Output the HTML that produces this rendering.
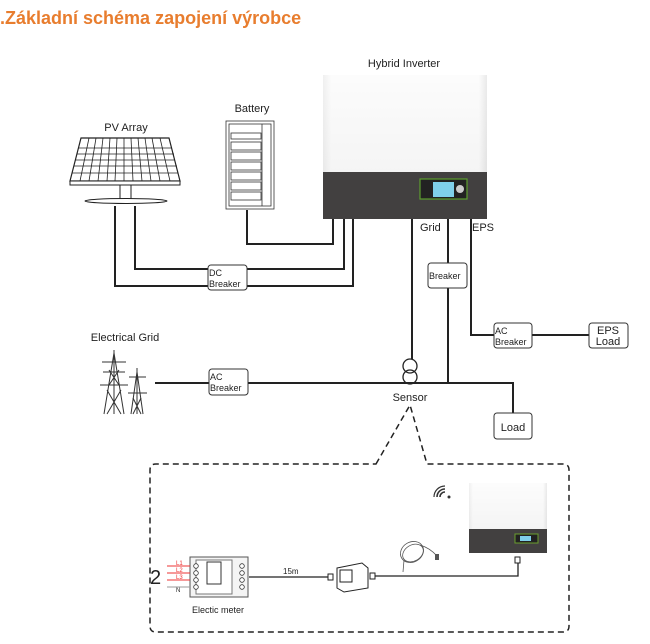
<!DOCTYPE html>
<html><head><meta charset="utf-8"><style>
body{margin:0;background:#fff;width:650px;height:644px;overflow:hidden}
svg{display:block}
text{font-family:"Liberation Sans",sans-serif;fill:#222}
</style></head><body>
<svg width="650" height="644" viewBox="0 0 650 644" xmlns="http://www.w3.org/2000/svg">
<defs>
<linearGradient id="g1" x1="0" x2="1" y1="0" y2="0"><stop offset="0" stop-color="#e6e6e6"/><stop offset="0.05" stop-color="#fafafa"/><stop offset="0.95" stop-color="#fafafa"/><stop offset="1" stop-color="#dcdcdc"/></linearGradient>
<linearGradient id="g2" x1="0" x2="0" y1="0" y2="1"><stop offset="0" stop-color="#ffffff"/><stop offset="1" stop-color="#ececec"/></linearGradient>
</defs>
<text x="0" y="24" font-size="18" font-weight="bold" style="fill:#e87d2e">.Základní schéma zapojení výrobce</text>

<!-- Inverter -->
<text x="404" y="67" font-size="11" text-anchor="middle">Hybrid Inverter</text>
<rect x="323" y="75" width="164" height="97" fill="url(#g2)"/>
<rect x="323" y="75" width="164" height="97" fill="url(#g1)" opacity="0.6"/>
<rect x="323" y="172" width="164" height="47" fill="#424040"/>
<rect x="420" y="179" width="47" height="20" fill="#222" stroke="#5c9e2e" stroke-width="1.2"/>
<rect x="433" y="182" width="21" height="15" fill="#7fd0ea"/>
<circle cx="460" cy="189" r="4" fill="#ccc"/>

<!-- Battery -->
<text x="252" y="112" font-size="11" text-anchor="middle">Battery</text>
<g stroke="#333" fill="none" stroke-width="0.8">
<rect x="226" y="121" width="48" height="88" fill="#fff"/>
<rect x="229" y="124" width="42" height="82"/>
<line x1="262" y1="124" x2="262" y2="206"/>
<rect x="231" y="133" width="30" height="6"/><rect x="231" y="142" width="30" height="8"/><rect x="231" y="152" width="30" height="8"/><rect x="231" y="162" width="30" height="8"/><rect x="231" y="172" width="30" height="8"/><rect x="231" y="182" width="30" height="8"/><rect x="231" y="192" width="30" height="8"/>
</g>

<!-- PV -->
<text x="126" y="131" font-size="11" text-anchor="middle">PV Array</text>
<polygon points="81,138 169,138 180,181 70,181" fill="#fff" stroke="#222" stroke-width="1.2"/>
<g stroke="#222" stroke-width="0.8">
<line x1="78" y1="148" x2="172" y2="148"/><line x1="77" y1="154" x2="174" y2="154"/><line x1="75" y1="160" x2="175" y2="160"/><line x1="74" y1="166" x2="177" y2="166"/><line x1="72" y1="173" x2="178" y2="173"/>
<line x1="89" y1="138" x2="80" y2="181"/><line x1="96" y1="138" x2="89" y2="181"/><line x1="103" y1="138" x2="98" y2="181"/><line x1="110" y1="138" x2="107" y2="181"/><line x1="117" y1="138" x2="115" y2="181"/><line x1="124" y1="138" x2="124" y2="181"/><line x1="131" y1="138" x2="133" y2="181"/><line x1="138" y1="138" x2="142" y2="181"/><line x1="145" y1="138" x2="151" y2="181"/><line x1="152" y1="138" x2="160" y2="181"/><line x1="160" y1="138" x2="170" y2="181"/>
</g>
<rect x="70" y="181" width="110" height="4" fill="#fff" stroke="#222"/>
<rect x="120" y="185" width="11" height="15" fill="#fff" stroke="#222"/>
<ellipse cx="126" cy="201" rx="41" ry="2.5" fill="#fff" stroke="#222"/>

<!-- wires -->
<g stroke="#222" stroke-width="2" fill="none">
<polyline points="115,206 115,286 353,286 353,219"/>
<polyline points="135,206 135,269 344,269 344,219"/>
<polyline points="247,210 247,244 333,244 333,219"/>
<line x1="412" y1="219" x2="412" y2="360"/>
<polyline points="448,219 448,383"/>
<polyline points="471,219 471,335 589,335"/>
<polyline points="155,383 513,383 513,413"/>
</g>
<text x="420" y="231" font-size="11">Grid</text>
<text x="472" y="231" font-size="11">EPS</text>

<g fill="#fff" stroke="#333" stroke-width="1">
<rect x="208" y="265" width="39" height="25" rx="3"/>
<rect x="428" y="263" width="39" height="25" rx="3"/>
<rect x="494" y="323" width="38" height="25" rx="3"/>
<rect x="589" y="323" width="39" height="25" rx="3"/>
<rect x="209" y="369" width="39" height="26" rx="3"/>
<rect x="494" y="413" width="38" height="26" rx="3"/>
</g>
<g font-size="9">
<text x="209" y="276">DC</text><text x="209" y="287">Breaker</text>
<text x="429" y="279">Breaker</text>
<text x="495" y="334">AC</text><text x="495" y="345">Breaker</text>
<text x="210" y="380">AC</text><text x="210" y="391">Breaker</text>
</g>
<text x="608" y="334" font-size="11" text-anchor="middle">EPS</text>
<text x="608" y="345" font-size="11" text-anchor="middle">Load</text>
<text x="513" y="431" font-size="11" text-anchor="middle">Load</text>

<text x="125" y="341" font-size="11" text-anchor="middle">Electrical Grid</text>
<!-- pylons -->
<g stroke="#333" stroke-width="1" fill="none">
<polyline points="104,414 114,353 124,414"/><line x1="114" y1="350" x2="114" y2="414"/>
<line x1="102" y1="362" x2="126" y2="362"/><line x1="100" y1="385" x2="128" y2="385"/><line x1="103" y1="372" x2="125" y2="372"/>
<path d="M107,390 L121,414 M121,390 L107,414 M109,370 L119,385 M119,370 L109,385"/>
<polyline points="131,414 137,372 143,414"/><line x1="137" y1="368" x2="137" y2="414"/>
<line x1="129" y1="377" x2="146" y2="377"/><line x1="128" y1="393" x2="147" y2="393"/>
<path d="M133,398 L141,414 M141,398 L133,414"/>
</g>

<!-- sensor -->
<circle cx="410" cy="366" r="7" fill="#fff" stroke="#222" stroke-width="1.3"/>
<circle cx="410" cy="377" r="7" fill="none" stroke="#222" stroke-width="1.3"/>
<text x="410" y="401" font-size="11" text-anchor="middle">Sensor</text>

<!-- dashed callout -->
<path d="M376,464 L410,405 L427,464 L563,464 Q569,464 569,470 L569,626 Q569,632 563,632 L156,632 Q150,632 150,626 L150,470 Q150,464 156,464 Z" fill="none" stroke="#222" stroke-width="1.5" stroke-dasharray="6,4"/>

<!-- wifi -->
<g fill="none" stroke="#333" stroke-width="1.6">
<path d="M440,497 a5,5 0 0 1 5,-5"/><path d="M437,497 a8,8 0 0 1 8,-8"/><path d="M434,497 a11,11 0 0 1 11,-11" stroke-width="1.2"/>
</g>
<circle cx="449" cy="497" r="1.5" fill="#333"/>

<!-- small inverter -->
<rect x="469" y="483" width="78" height="46" fill="url(#g2)"/>
<rect x="469" y="483" width="78" height="46" fill="url(#g1)" opacity="0.6"/>
<rect x="469" y="529" width="78" height="24" fill="#424040"/>
<rect x="515" y="534" width="23" height="9" fill="#222" stroke="#6a9e2e"/>
<rect x="520" y="536" width="11" height="5" fill="#7fd0ea"/>
<rect x="515" y="557" width="5" height="6" fill="#fff" stroke="#222"/>

<g stroke="#222" stroke-width="1.3" fill="none">
<polyline points="518,563 518,576 375,576"/>
<line x1="249" y1="577" x2="328" y2="577"/>
</g>
<text x="283" y="574" font-size="8">15m</text>
<!-- coupler -->
<g stroke="#222" fill="#fff" stroke-width="1">
<rect x="328" y="574" width="5" height="6"/><rect x="370" y="573" width="5" height="6"/>
<path d="M337,568 L362,563 L368,568 L368,588 L344,592 L337,588 Z"/>
<rect x="340" y="570" width="12" height="12"/>
</g>
<!-- cable coil -->
<g stroke="#555" fill="none" stroke-width="0.8">
<ellipse cx="412" cy="552" rx="12" ry="10" transform="rotate(-30 412 552)"/>
<ellipse cx="413" cy="553" rx="11" ry="8" transform="rotate(-30 413 553)"/>
<path d="M420,545 Q430,548 437,556"/><path d="M404,560 L403,572"/>
</g>
<rect x="435" y="554" width="4" height="6" fill="#555"/>

<!-- meter -->
<rect x="190" y="557" width="58" height="40" fill="#f4f4f4" stroke="#555"/>
<rect x="196" y="560" width="36" height="34" fill="#fff" stroke="#777"/>
<rect x="207" y="562" width="14" height="22" fill="#fff" stroke="#333"/>
<g fill="#fff" stroke="#333" stroke-width="0.8">
<circle cx="196" cy="566" r="2.3"/><circle cx="196" cy="573" r="2.3"/><circle cx="196" cy="580" r="2.3"/><circle cx="196" cy="587" r="2.3"/>
<circle cx="242" cy="566" r="2.3"/><circle cx="242" cy="573" r="2.3"/><circle cx="242" cy="580" r="2.3"/><circle cx="242" cy="587" r="2.3"/>
</g>
<g stroke="#e33" stroke-width="1"><line x1="167" y1="566" x2="190" y2="566"/><line x1="167" y1="573" x2="190" y2="573"/><line x1="167" y1="580" x2="190" y2="580"/></g>
<line x1="167" y1="587" x2="190" y2="587" stroke="#999"/>
<g font-size="6" style="fill:#e33"><text x="176" y="565" style="fill:#e33">L1</text><text x="176" y="572" style="fill:#e33">L2</text><text x="176" y="579" style="fill:#e33">L3</text></g>
<text x="176" y="592" font-size="6">N</text>
<text x="150" y="584" font-size="20">2</text>
<text x="218" y="613" font-size="9" text-anchor="middle">Electic meter</text>
</svg>
</body></html>
